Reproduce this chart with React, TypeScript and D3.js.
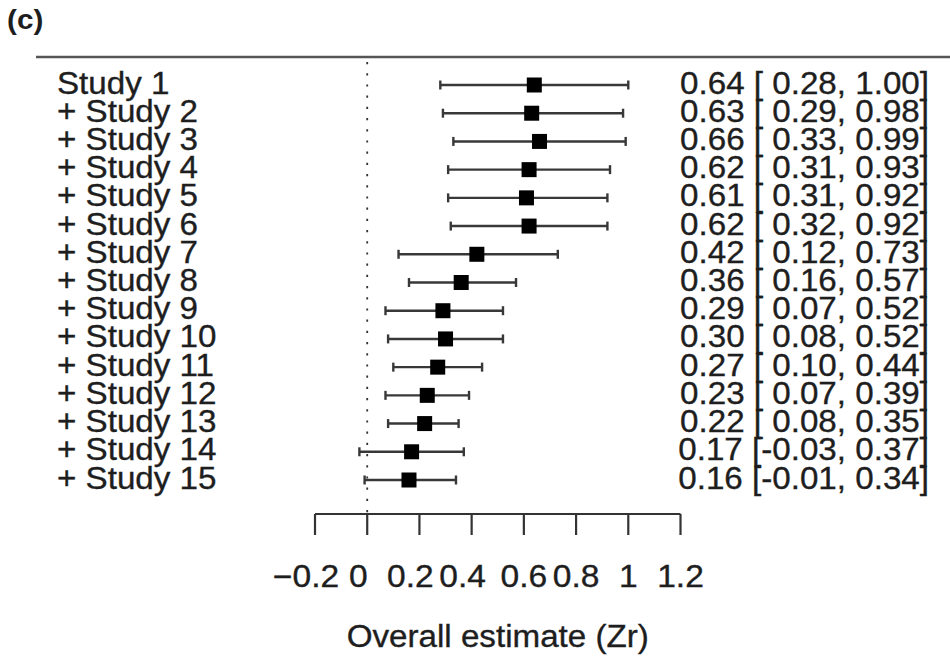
import React from "react";
import * as d3 from "d3";

const studyLabels = [
  "Study 1", "+ Study 2", "+ Study 3", "+ Study 4", "+ Study 5",
  "+ Study 6", "+ Study 7", "+ Study 8", "+ Study 9", "+ Study 10",
  "+ Study 11", "+ Study 12", "+ Study 13", "+ Study 14", "+ Study 15",
];
const estimates = [0.64, 0.63, 0.66, 0.62, 0.61, 0.62, 0.42, 0.36, 0.29, 0.30, 0.27, 0.23, 0.22, 0.17, 0.16];
const lowerCI = [0.28, 0.29, 0.33, 0.31, 0.31, 0.32, 0.12, 0.16, 0.07, 0.08, 0.10, 0.07, 0.08, -0.03, -0.01];
const upperCI = [1.00, 0.98, 0.99, 0.93, 0.92, 0.92, 0.73, 0.57, 0.52, 0.52, 0.44, 0.39, 0.35, 0.37, 0.34];
const xTicks = [-0.2, 0, 0.2, 0.4, 0.6, 0.8, 1, 1.2];
const xTickLabels = ["\u22120.2", "0", "0.2", "0.4", "0.6", "0.8", "1", "1.2"];
const panelLabel = "(c)";
const xTitle = "Overall estimate (Zr)";

const FONT = "'Liberation Sans', Arial, Helvetica, sans-serif";
const INK = "#1e1e1e";

function fmt(v: number): string {
  const s = v.toFixed(2);
  return v < 0 ? s : " " + s;
}

export default function App() {
  const W = 950;
  const H = 656;
  const x = d3.scaleLinear().domain([-0.2, 1.2]).range([315, 680.5]);
  const y = d3.scaleLinear().domain([0, studyLabels.length - 1]).range([85, 480]);
  const axisY = 514;
  const sq = 15;
  const capH = 4.5;
  const lineCol = "#383838";
  const textStyle = { stroke: INK, strokeWidth: 0.35, whiteSpace: "pre" as const };

  return (
    <svg
      width={W}
      height={H}
      viewBox={`0 0 ${W} ${H}`}
      style={{ position: "absolute", left: 0, top: 0, background: "#fff" }}
      fontFamily={FONT}
    >
      <rect x={0} y={0} width={W} height={H} fill="#fff" />
      {/* panel label */}
      <text
        transform="translate(7,28.5) scale(1.06,1)"
        fontSize={28}
        fontWeight="bold"
        fill={INK}
      >
        {panelLabel}
      </text>
      {/* top rule */}
      <line x1={36} x2={W} y1={57} y2={57} stroke="#555" strokeWidth={2.4} />
      {/* zero reference line */}
      <line
        x1={x(0)}
        x2={x(0)}
        y1={62}
        y2={axisY}
        stroke="#333"
        strokeWidth={1.8}
        strokeDasharray="2.2,9"
      />
      {/* rows */}
      {studyLabels.map((lab, i) => {
        const yy = y(i);
        return (
          <g key={lab}>
            <text
              transform={`translate(57,${yy + 8.5}) scale(1.07,1)`}
              fontSize={31}
              fill={INK}
              style={textStyle}
            >
              {lab}
            </text>
            <line x1={x(lowerCI[i])} x2={x(upperCI[i])} y1={yy} y2={yy} stroke={lineCol} strokeWidth={2.4} />
            <line x1={x(lowerCI[i])} x2={x(lowerCI[i])} y1={yy - capH} y2={yy + capH} stroke={lineCol} strokeWidth={2.4} />
            <line x1={x(upperCI[i])} x2={x(upperCI[i])} y1={yy - capH} y2={yy + capH} stroke={lineCol} strokeWidth={2.4} />
            <rect x={x(estimates[i]) - sq / 2} y={yy - sq / 2} width={sq} height={sq} fill="#000" />
            <text
              transform={`translate(929,${yy + 8.5}) scale(1.07,1)`}
              fontSize={31}
              fill={INK}
              textAnchor="end"
              style={textStyle}
            >
              {`${estimates[i].toFixed(2)} [${fmt(lowerCI[i])}, ${upperCI[i].toFixed(2)}]`}
            </text>
          </g>
        );
      })}
      {/* x axis */}
      <line x1={x(-0.2)} x2={x(1.2)} y1={axisY} y2={axisY} stroke="#333" strokeWidth={2.2} />
      {xTicks.map((t, i) => (
        <g key={t}>
          <line x1={x(t)} x2={x(t)} y1={axisY} y2={535} stroke="#333" strokeWidth={2.2} />
          <text
            transform={`translate(${x(t) - (t < 0.5 ? 9 : 0)},587) scale(1.1,1)`}
            fontSize={30.5}
            fill={INK}
            textAnchor="middle"
            style={textStyle}
          >
            {xTickLabels[i]}
          </text>
        </g>
      ))}
      <text
        transform={`translate(${(x(-0.2) + x(1.2)) / 2},647) scale(1.07,1)`}
        fontSize={31}
        fill={INK}
        textAnchor="middle"
        style={textStyle}
      >
        {xTitle}
      </text>
    </svg>
  );
}
